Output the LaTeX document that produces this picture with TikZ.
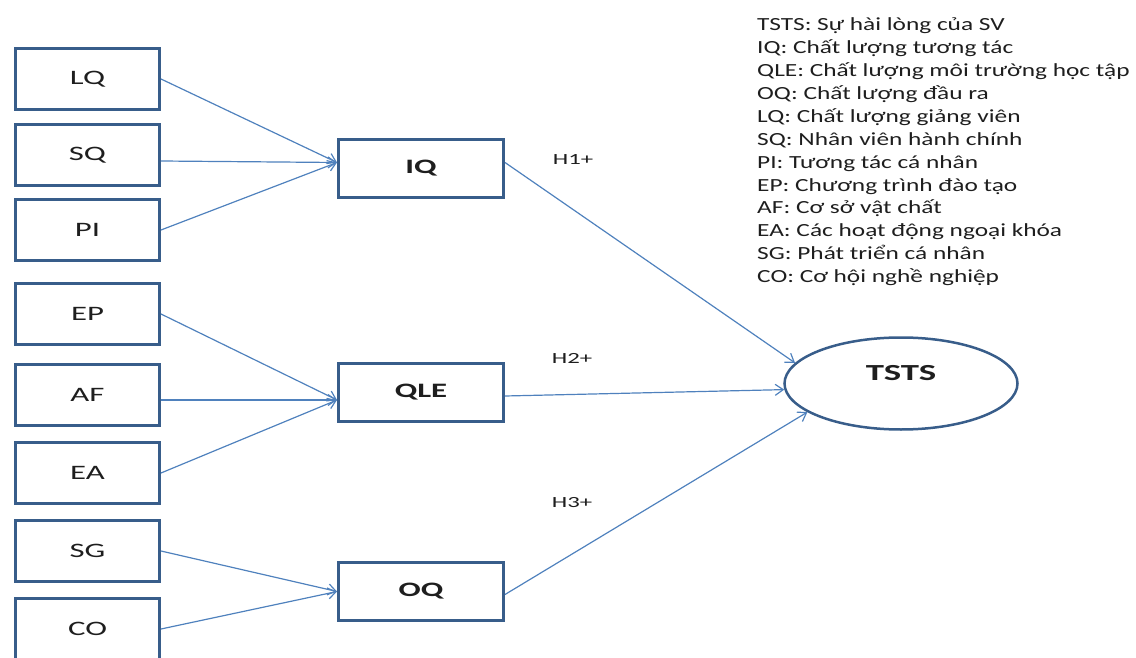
\documentclass[tikz,border=0pt]{standalone}
\usepackage{fontspec}
\setmainfont{Carlito}[FakeStretch=1.37]
\newfontfamily\labelface{Carlito}[FakeStretch=1.6]
\usetikzlibrary{arrows.meta}
\usetikzlibrary{shapes.geometric,positioning}
\definecolor{boxblue}{RGB}{56,93,138}
\definecolor{linkblue}{RGB}{79,129,189}
\definecolor{inkgray}{RGB}{30,30,30}

\begin{document}
\begin{tikzpicture}[x=1pt,y=-1pt,>={Straight Barb[length=8pt,width=11pt]},
    factor/.style={rectangle,draw=boxblue,line width=3pt,minimum width=144pt,minimum height=61pt,
                   text=inkgray,font=\labelface\fontsize{20.5}{24}\selectfont},
    construct/.style={factor,minimum width=165pt,minimum height=58pt,font=\labelface\fontsize{20.5}{24}\selectfont\bfseries},
    outcome/.style={ellipse,draw=boxblue,line width=2.5pt,minimum width=233pt,minimum height=92pt},
    hyp/.style={text=inkgray,font=\labelface\fontsize{15.5}{18}\selectfont},
    legend/.style={anchor=base west,align=left,inner sep=0pt,text=inkgray,font=\fontsize{18.5}{22.9}\selectfont},
    link/.style={color=linkblue,line width=1.2pt,->}]

  \useasboundingbox (0,0) rectangle (1136,658);

  % left column
  \node[factor] (LQ) at (87.5,79) {LQ};
  \node[factor] (SQ) [below=12pt of LQ] {SQ};
  \node[factor] (PI) [below=11pt of SQ] {PI};
  \node[factor] (EP) [below=20pt of PI] {EP};
  \node[factor] (AF) [below=17pt of EP] {AF};
  \node[factor] (EA) [below=14pt of AF] {EA};
  \node[factor] (SG) [below=14pt of EA] {SG};
  \node[factor] (CO) [below=14pt of SG] {CO};

  % middle column
  \node[construct] (IQ) at (421,168.5) {IQ};
  \node[construct] (QLE) at (421,392) {QLE};
  \node[construct] (OQ) at (421,591.5) {OQ};

  \node[outcome] (TSTS) at (901,383.5) {};
  \node[text=inkgray,font=\labelface\fontsize{23}{27}\selectfont\bfseries] (TSTSname) at ([yshift=10pt]TSTS.center) {TSTS};

  \node[hyp] (H1) at (573,160) {H1+};
  \node[hyp] (H2) at (572,358) {H2+};
  \node[hyp] (H3) at (572,503) {H3+};

  % legend, anchored at the baseline of its last line
  \node[legend] (key) at (757,282.6) {TSTS: Sự hài lòng của SV\\
    IQ: Chất lượng tương tác\\
    QLE: Chất lượng môi trường học tập\\
    OQ: Chất lượng đầu ra\\
    LQ: Chất lượng giảng viên\\
    SQ: Nhân viên hành chính\\
    PI: Tương tác cá nhân\\
    EP: Chương trình đào tạo\\
    AF: Cơ sở vật chất\\
    EA: Các hoạt động ngoại khóa\\
    SG: Phát triển cá nhân\\
    CO: Cơ hội nghề nghiệp};

  \path[link]
    (LQ.east) edge ([yshift=6pt]IQ.west)
    ([yshift=-6pt]SQ.east) edge ([yshift=6pt]IQ.west)
    (PI.east) edge ([yshift=6pt]IQ.west)
    (EP.east) edge ([yshift=-8pt]QLE.west)
    ([yshift=-5pt]AF.east) edge ([yshift=-8pt]QLE.west)
    (EA.east) edge ([yshift=-8pt]QLE.west)
    (SG.east) edge (OQ.west)
    (CO.east) edge (OQ.west)
    ([yshift=6pt]IQ.east) edge (TSTS.169)
    ([yshift=-4pt]QLE.east) edge (TSTS.183)
    ([yshift=-3pt]OQ.east) edge (TSTS.197);
\end{tikzpicture}
\end{document}
